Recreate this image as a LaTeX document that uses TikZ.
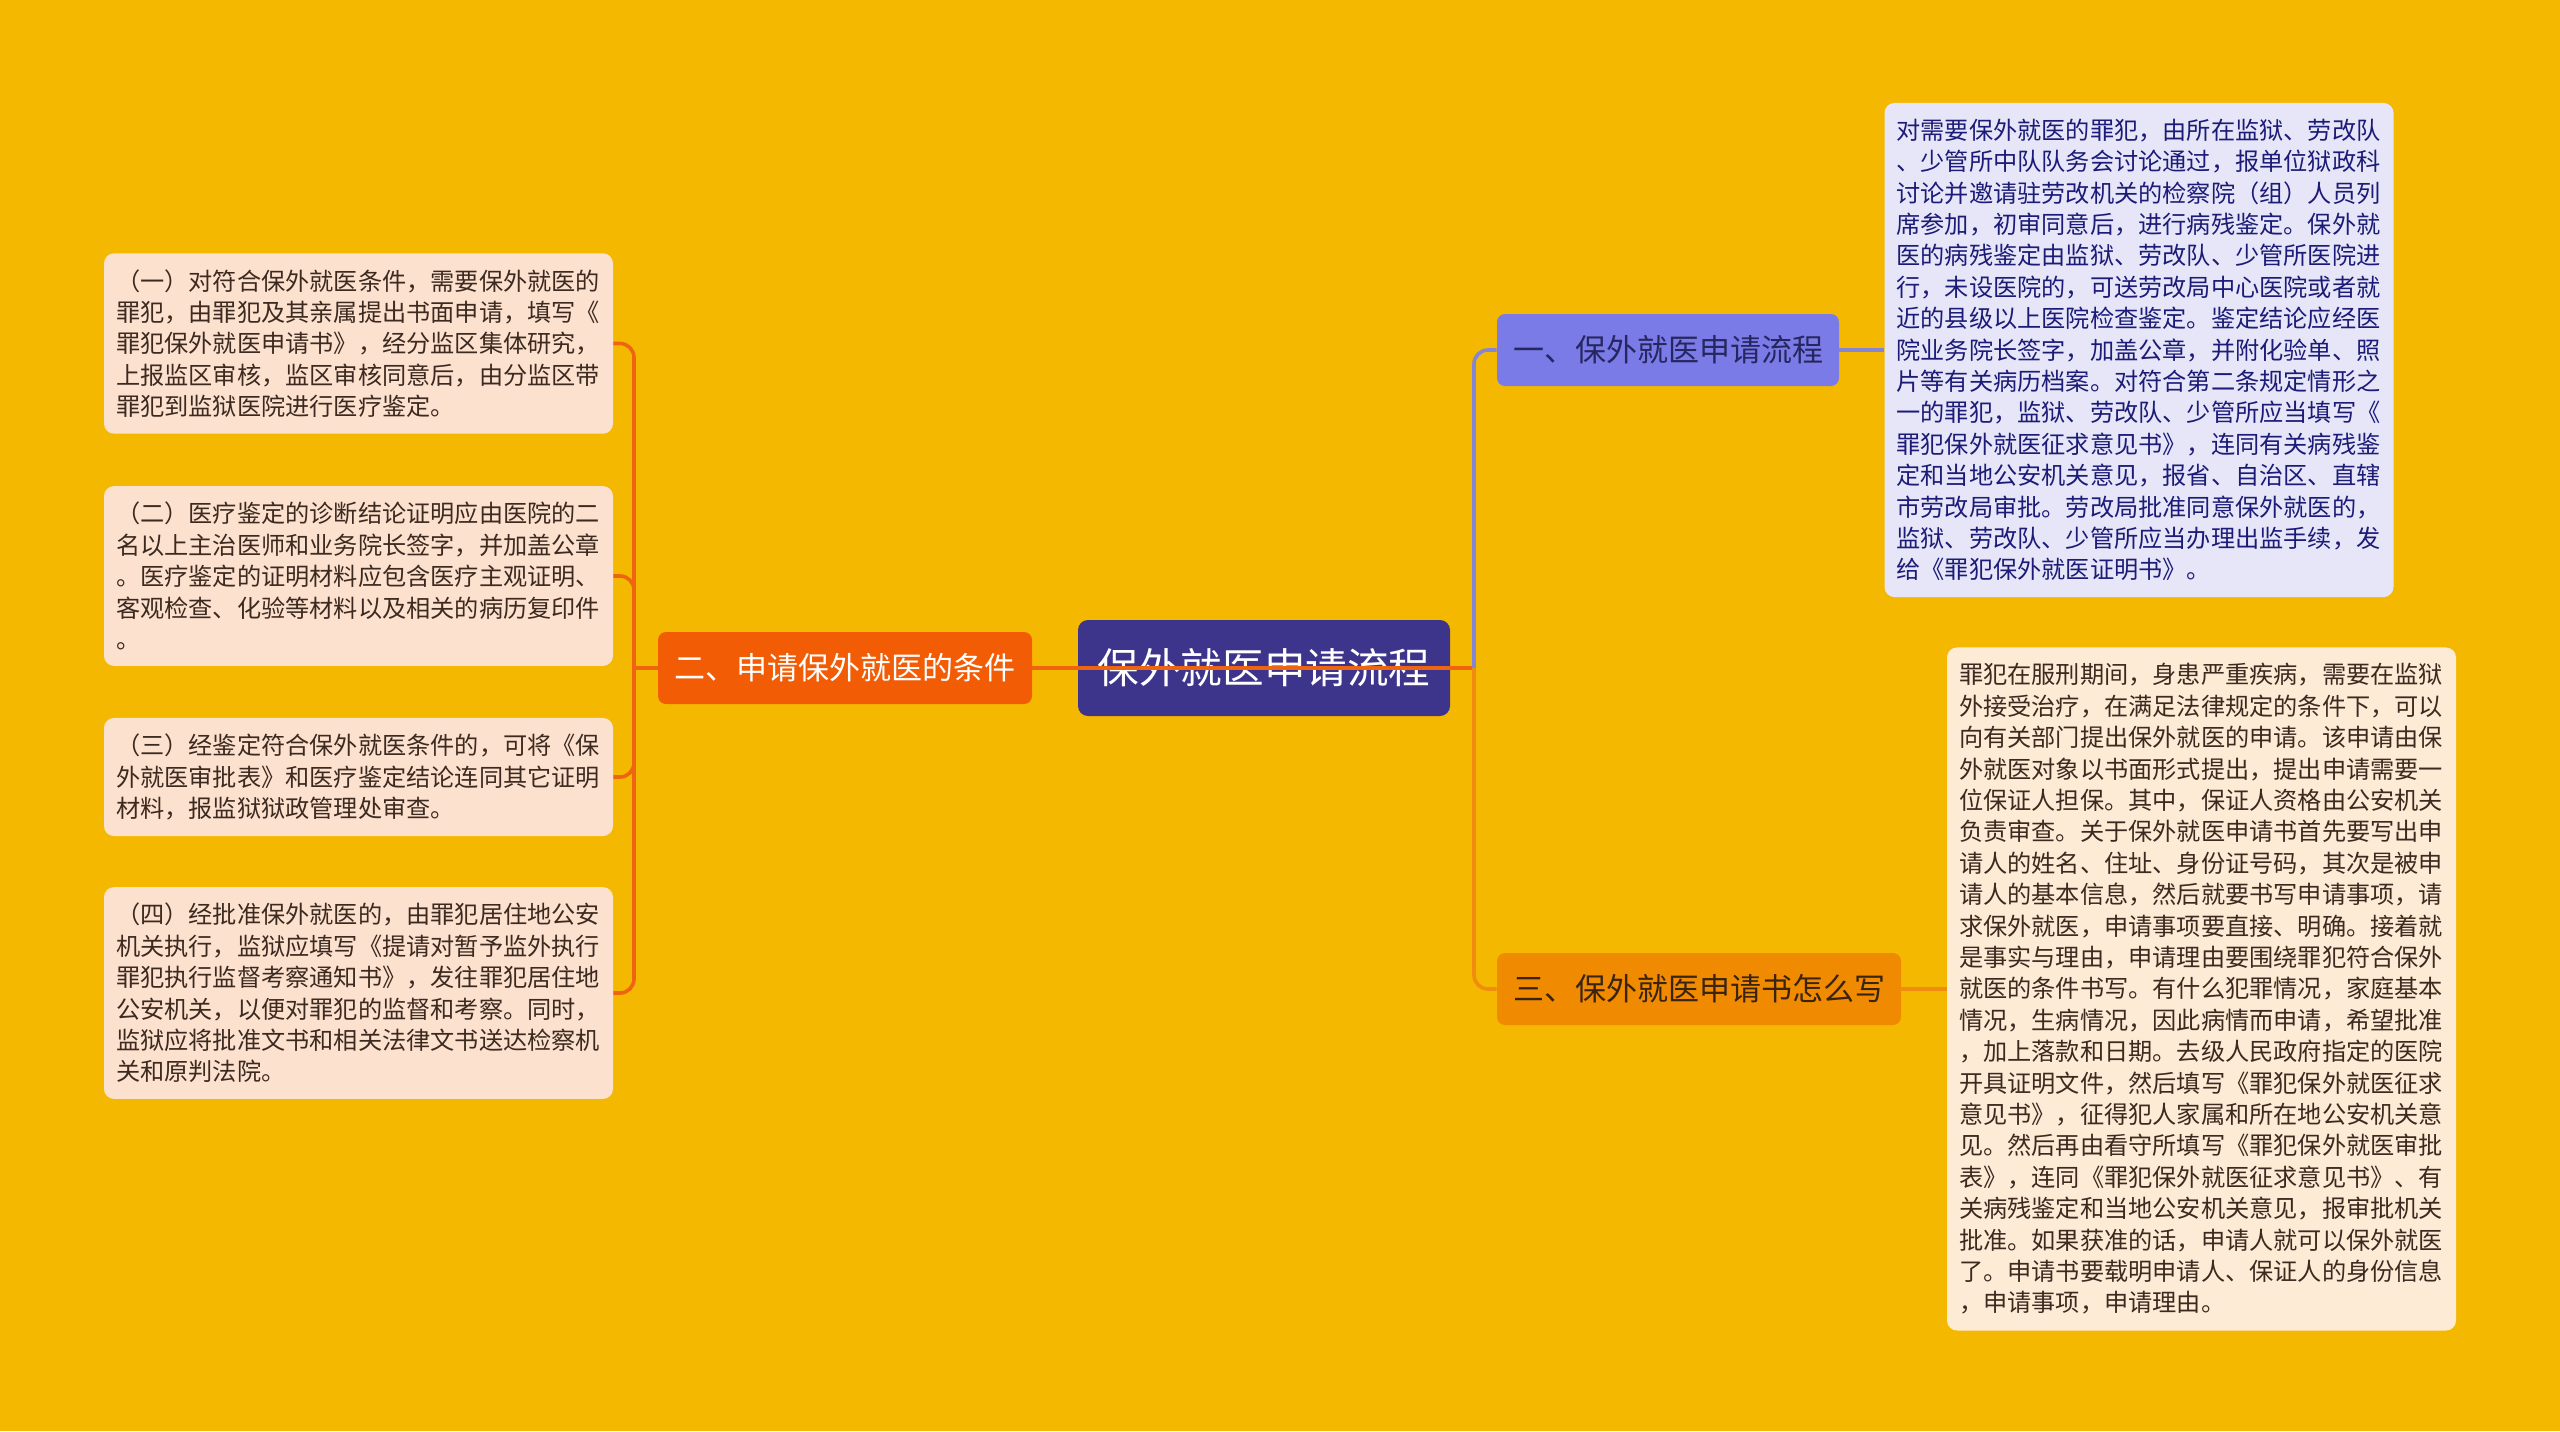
\documentclass[tikz,border=0pt]{standalone}
\usepackage{fontspec}
\setmainfont{Noto Sans CJK SC}
\definecolor{bgyellow}{HTML}{F5B800}
\definecolor{rootfill}{HTML}{3D358B}
\definecolor{leftfill}{HTML}{F25C05}
\definecolor{leftline}{HTML}{EE6410}
\definecolor{onefill}{HTML}{7B7BE8}
\definecolor{oneline}{HTML}{8585D6}
\definecolor{onetext}{HTML}{262660}
\definecolor{threefill}{HTML}{F08A00}
\definecolor{threeline}{HTML}{F08C10}
\definecolor{threetext}{HTML}{3A2410}
\definecolor{lavleaf}{HTML}{E6E6F8}
\definecolor{navytext}{HTML}{1C1C78}
\definecolor{peachleaf}{HTML}{FDE1CF}
\definecolor{creamleaf}{HTML}{FDEBD5}
\definecolor{browntext}{HTML}{3C2A20}
\begin{document}
\begin{tikzpicture}[x=0.5pt,y=-0.5pt,
    leaf/.style={rounded corners=5pt,inner xsep=6pt,inner ysep=8pt,text width=242.5pt,align=left,
      font=\fontsize{12.1pt}{15.7pt}\selectfont},
    branch/.style={rounded corners=4pt,minimum height=36pt,inner xsep=8pt,
      font=\fontsize{15.5pt}{18pt}\selectfont},
    link/.style={line width=1.8pt,rounded corners=7pt}]
  \useasboundingbox (0,0) rectangle (2560,1431);
  \fill[bgyellow] (0,0) rectangle (2560,1431);

  \node[rounded corners=5pt,fill=rootfill,text=white,minimum width=186pt,minimum height=48pt,
    font=\fontsize{20.8pt}{24pt}\selectfont] (root) at (1264,668) {保外就医申请流程};

  \node[branch,fill=leftfill,text=white,minimum width=187pt] (cond) at (845,668) {二、申请保外就医的条件};
  \node[branch,fill=onefill,text=onetext,minimum width=171pt] (flow) at (1668,350) {一、保外就医申请流程};
  \node[branch,fill=threefill,text=threetext,minimum width=202pt] (write) at (1699,989) {三、保外就医申请书怎么写};

  \node[leaf,fill=lavleaf,text=navytext] (flowtxt) at (2139,350) {对需要保外就医的罪犯，由所在监狱、劳改队\\
、少管所中队队务会讨论通过，报单位狱政科\\
讨论并邀请驻劳改机关的检察院（组）人员列\\
席参加，初审同意后，进行病残鉴定。保外就\\
医的病残鉴定由监狱、劳改队、少管所医院进\\
行，未设医院的，可送劳改局中心医院或者就\\
近的县级以上医院检查鉴定。鉴定结论应经医\\
院业务院长签字，加盖公章，并附化验单、照\\
片等有关病历档案。对符合第二条规定情形之\\
一的罪犯，监狱、劳改队、少管所应当填写《\\
罪犯保外就医征求意见书》，连同有关病残鉴\\
定和当地公安机关意见，报省、自治区、直辖\\
市劳改局审批。劳改局批准同意保外就医的，\\
监狱、劳改队、少管所应当办理出监手续，发\\
给《罪犯保外就医证明书》。};

  \node[leaf,fill=creamleaf,text=browntext] (writetxt) at (2201.5,989) {罪犯在服刑期间，身患严重疾病，需要在监狱\\
外接受治疗，在满足法律规定的条件下，可以\\
向有关部门提出保外就医的申请。该申请由保\\
外就医对象以书面形式提出，提出申请需要一\\
位保证人担保。其中，保证人资格由公安机关\\
负责审查。关于保外就医申请书首先要写出申\\
请人的姓名、住址、身份证号码，其次是被申\\
请人的基本信息，然后就要书写申请事项，请\\
求保外就医，申请事项要直接、明确。接着就\\
是事实与理由，申请理由要围绕罪犯符合保外\\
就医的条件书写。有什么犯罪情况，家庭基本\\
情况，生病情况，因此病情而申请，希望批准\\
，加上落款和日期。去级人民政府指定的医院\\
开具证明文件，然后填写《罪犯保外就医征求\\
意见书》，征得犯人家属和所在地公安机关意\\
见。然后再由看守所填写《罪犯保外就医审批\\
表》，连同《罪犯保外就医征求意见书》、有\\
关病残鉴定和当地公安机关意见，报审批机关\\
批准。如果获准的话，申请人就可以保外就医\\
了。申请书要载明申请人、保证人的身份信息\\
，申请事项，申请理由。};

  \node[leaf,fill=peachleaf,text=browntext] (condone) at (358.5,343.5) {（一）对符合保外就医条件，需要保外就医的\\
罪犯，由罪犯及其亲属提出书面申请，填写《\\
罪犯保外就医申请书》，经分监区集体研究，\\
上报监区审核，监区审核同意后，由分监区带\\
罪犯到监狱医院进行医疗鉴定。};

  \node[leaf,fill=peachleaf,text=browntext] (condtwo) at (358.5,576) {（二）医疗鉴定的诊断结论证明应由医院的二\\
名以上主治医师和业务院长签字，并加盖公章\\
。医疗鉴定的证明材料应包含医疗主观证明、\\
客观检查、化验等材料以及相关的病历复印件\\
。};

  \node[leaf,fill=peachleaf,text=browntext] (condthree) at (358.5,777) {（三）经鉴定符合保外就医条件的，可将《保\\
外就医审批表》和医疗鉴定结论连同其它证明\\
材料，报监狱狱政管理处审查。};

  \node[leaf,fill=peachleaf,text=browntext] (condfour) at (358.5,993) {（四）经批准保外就医的，由罪犯居住地公安\\
机关执行，监狱应填写《提请对暂予监外执行\\
罪犯执行监督考察通知书》，发往罪犯居住地\\
公安机关，以便对罪犯的监督和考察。同时，\\
监狱应将批准文书和相关法律文书送达检察机\\
关和原判法院。};

  \coordinate (lspine) at (634,668);
  \coordinate (rspine) at (1474,668);

  \draw[link,leftline] (cond.west) -- (lspine);
  \draw[link,leftline] (lspine) |- (condone.east);
  \draw[link,leftline] (lspine) |- (condtwo.east);
  \draw[link,leftline] (lspine) |- (condthree.east);
  \draw[link,leftline] (lspine) |- (condfour.east);

  \draw[link,leftline] (cond.east) -- (rspine);
  \draw[link,oneline] (rspine) |- (flow.west);
  \draw[link,threeline] (rspine) |- (write.west);
  \draw[link,oneline] (flow.east) -- (flowtxt.west);
  \draw[link,threeline] (write.east) -- (writetxt.west);
\end{tikzpicture}
\end{document}
